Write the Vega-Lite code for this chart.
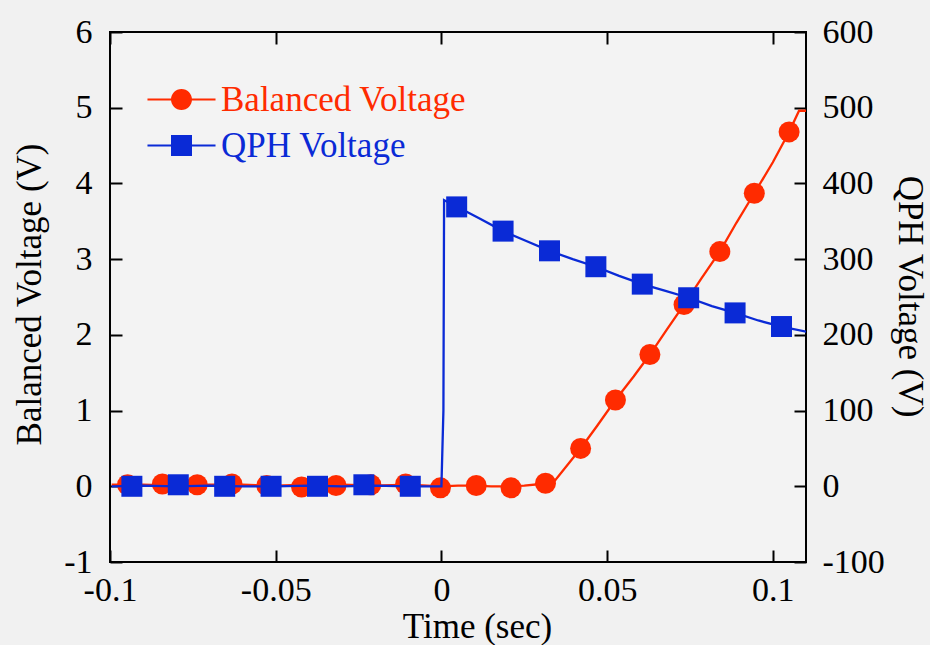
{
  "$schema": "https://vega.github.io/schema/vega-lite/v6.json",
  "width": 696,
  "height": 530,
  "autosize": "none",
  "padding": {"left": 110, "top": 32, "right": 124, "bottom": 83},
  "background": "#f1f1f1",
  "config": {
    "view": {"stroke": "#000000", "strokeWidth": 2, "fill": "#f3f3f3"},
    "font": "Liberation Serif",
    "axis": {
      "grid": false,
      "domain": false,
      "tickColor": "#000000",
      "tickWidth": 2,
      "tickSize": -12,
      "labelFont": "Liberation Serif",
      "labelFontSize": 34,
      "labelColor": "#000000",
      "labelFlush": false,
      "labelOverlap": false,
      "titleFont": "Liberation Serif",
      "titleFontSize": 35,
      "titleFontWeight": "normal",
      "titleColor": "#000000"
    },
    "legend": {
      "orient": "none", "legendX": 54, "legendY": 50, "title": null, "padding": 0,
      "labelFont": "Liberation Serif", "labelFontSize": 35, "labelOffset": 22, "labelLimit": 0,
      "rowPadding": 10, "symbolSize": 441, "symbolStrokeWidth": 0, "symbolOpacity": 1
    }
  },
  "datasets": {
    "bal_line": [
      {"t": -0.0995, "v": 0.02}, {"t": -0.09, "v": 0.02}, {"t": -0.08, "v": 0.01}, {"t": -0.07, "v": 0.02},
      {"t": -0.06, "v": 0.02}, {"t": -0.05, "v": 0.01}, {"t": -0.04, "v": 0.02}, {"t": -0.03, "v": 0.02},
      {"t": -0.02, "v": 0.01}, {"t": -0.01, "v": 0.02}, {"t": 0.0, "v": 0.0}, {"t": 0.005, "v": 0.01},
      {"t": 0.01, "v": 0.01}, {"t": 0.015, "v": 0.0}, {"t": 0.02, "v": 0.0}, {"t": 0.025, "v": 0.01},
      {"t": 0.03, "v": 0.03}, {"t": 0.0338, "v": 0.05}, {"t": 0.042, "v": 0.5}, {"t": 0.047, "v": 0.8},
      {"t": 0.0525, "v": 1.14}, {"t": 0.058, "v": 1.45}, {"t": 0.0629, "v": 1.74}, {"t": 0.068, "v": 2.07},
      {"t": 0.0732, "v": 2.4}, {"t": 0.0785, "v": 2.75}, {"t": 0.084, "v": 3.1}, {"t": 0.089, "v": 3.48},
      {"t": 0.0944, "v": 3.87}, {"t": 0.1, "v": 4.28}, {"t": 0.1049, "v": 4.68}, {"t": 0.1079, "v": 4.96},
      {"t": 0.1103, "v": 4.96}
    ],
    "bal_pts": [
      {"t": -0.0947, "v": 0.02, "series": "Balanced Voltage"},
      {"t": -0.0842, "v": 0.03, "series": "Balanced Voltage"},
      {"t": -0.0737, "v": 0.02, "series": "Balanced Voltage"},
      {"t": -0.0632, "v": 0.03, "series": "Balanced Voltage"},
      {"t": -0.0527, "v": 0.01, "series": "Balanced Voltage"},
      {"t": -0.0422, "v": -0.01, "series": "Balanced Voltage"},
      {"t": -0.0318, "v": 0.01, "series": "Balanced Voltage"},
      {"t": -0.0213, "v": 0.02, "series": "Balanced Voltage"},
      {"t": -0.0108, "v": 0.03, "series": "Balanced Voltage"},
      {"t": -0.0003, "v": -0.02, "series": "Balanced Voltage"},
      {"t": 0.0105, "v": 0.01, "series": "Balanced Voltage"},
      {"t": 0.021, "v": -0.02, "series": "Balanced Voltage"},
      {"t": 0.0314, "v": 0.04, "series": "Balanced Voltage"},
      {"t": 0.042, "v": 0.5, "series": "Balanced Voltage"},
      {"t": 0.0525, "v": 1.14, "series": "Balanced Voltage"},
      {"t": 0.0629, "v": 1.74, "series": "Balanced Voltage"},
      {"t": 0.0732, "v": 2.4, "series": "Balanced Voltage"},
      {"t": 0.084, "v": 3.1, "series": "Balanced Voltage"},
      {"t": 0.0944, "v": 3.87, "series": "Balanced Voltage"},
      {"t": 0.1049, "v": 4.68, "series": "Balanced Voltage"}
    ],
    "qph_line": [
      {"t": -0.0995, "v": 0}, {"t": -0.09, "v": 1}, {"t": -0.08, "v": 0}, {"t": -0.07, "v": 1},
      {"t": -0.06, "v": 0}, {"t": -0.05, "v": 0}, {"t": -0.04, "v": 1}, {"t": -0.03, "v": 0},
      {"t": -0.02, "v": 1}, {"t": -0.01, "v": 0}, {"t": 0.0, "v": 0}, {"t": 0.0006, "v": 100},
      {"t": 0.0008, "v": 378}, {"t": 0.0046, "v": 369}, {"t": 0.0079, "v": 362}, {"t": 0.0118, "v": 353},
      {"t": 0.0186, "v": 337}, {"t": 0.0256, "v": 324}, {"t": 0.0326, "v": 311}, {"t": 0.0396, "v": 300},
      {"t": 0.0466, "v": 290}, {"t": 0.0536, "v": 278}, {"t": 0.0606, "v": 267}, {"t": 0.0676, "v": 258},
      {"t": 0.0746, "v": 249}, {"t": 0.0816, "v": 238}, {"t": 0.0886, "v": 229}, {"t": 0.0956, "v": 219},
      {"t": 0.1026, "v": 211}, {"t": 0.1103, "v": 204}
    ],
    "qph_pts": [
      {"t": -0.0934, "v": 0, "series": "QPH Voltage"},
      {"t": -0.0794, "v": 2, "series": "QPH Voltage"},
      {"t": -0.0654, "v": 0, "series": "QPH Voltage"},
      {"t": -0.0514, "v": 0, "series": "QPH Voltage"},
      {"t": -0.0374, "v": 0, "series": "QPH Voltage"},
      {"t": -0.0234, "v": 2, "series": "QPH Voltage"},
      {"t": -0.0094, "v": 0, "series": "QPH Voltage"},
      {"t": 0.0046, "v": 369, "series": "QPH Voltage"},
      {"t": 0.0186, "v": 337, "series": "QPH Voltage"},
      {"t": 0.0326, "v": 311, "series": "QPH Voltage"},
      {"t": 0.0466, "v": 290, "series": "QPH Voltage"},
      {"t": 0.0606, "v": 267, "series": "QPH Voltage"},
      {"t": 0.0746, "v": 249, "series": "QPH Voltage"},
      {"t": 0.0886, "v": 229, "series": "QPH Voltage"},
      {"t": 0.1026, "v": 211, "series": "QPH Voltage"}
    ]
  },
  "layer": [
    {
      "layer": [
        {
          "data": {"name": "bal_line"},
          "mark": {"type": "line", "color": "#ff2b00", "strokeWidth": 2.3, "clip": true},
          "encoding": {
            "x": {
              "field": "t", "type": "quantitative",
              "scale": {"domain": [-0.1, 0.11], "nice": false, "zero": false},
              "axis": {
                "orient": "bottom",
                "values": [-0.1, -0.05, 0, 0.05, 0.1],
                "labelExpr": "toString(datum.value)",
                "labelPadding": 23,
                "title": "Time (sec)",
                "titleX": 367,
                "titleY": 75,
                "titleBaseline": "alphabetic",
                "titleAlign": "center"
              }
            },
            "y": {
              "field": "v", "type": "quantitative",
              "scale": {"domain": [-1, 6], "nice": false, "zero": false},
              "axis": {
                "orient": "left",
                "values": [-1, 0, 1, 2, 3, 4, 5, 6],
                "labelExpr": "toString(datum.value)",
                "labelPadding": 30,
                "title": "Balanced Voltage (V)",
                "titleX": -70,
                "titleY": 262,
                "titleAngle": -90,
                "titleBaseline": "alphabetic",
                "titleAlign": "center"
              }
            }
          }
        },
        {
          "data": {"name": "bal_pts"},
          "mark": {"type": "point", "filled": true, "opacity": 1, "size": 441, "shape": "circle", "color": "#ff2b00"},
          "encoding": {
            "x": {"field": "t", "type": "quantitative"},
            "y": {"field": "v", "type": "quantitative"}
          }
        },
        {
          "data": {"name": "bal_pts"},
          "mark": {"type": "point", "filled": true, "opacity": 0, "size": 441},
          "encoding": {
            "x": {"field": "t", "type": "quantitative"},
            "y": {"field": "v", "type": "quantitative"},
            "color": {
              "field": "series", "type": "nominal",
              "scale": {"domain": ["Balanced Voltage", "QPH Voltage"], "range": ["#ff2b00", "#0a2ad6"]},
              "legend": {
                "labelColor": {"expr": "scale('color', datum.value)"},
                "symbolOpacity": 1
              }
            },
            "shape": {
              "field": "series", "type": "nominal",
              "scale": {"domain": ["Balanced Voltage", "QPH Voltage"], "range": ["M-3.24,-0.1L3.24,-0.1L3.24,0.1L-3.24,0.1Z M-1,0A1,1,0,1,1,1,0A1,1,0,1,1,-1,0Z", "M-3.24,-0.1L3.24,-0.1L3.24,0.1L-3.24,0.1Z M-1,-1L1,-1L1,1L-1,1Z"]},
              "legend": {
                "labelColor": {"expr": "scale('color', datum.value)"},
                "symbolOpacity": 1
              }
            }
          }
        }
      ]
    },
    {
      "layer": [
        {
          "data": {"name": "qph_line"},
          "mark": {"type": "line", "color": "#0a2ad6", "strokeWidth": 2.3, "clip": true},
          "encoding": {
            "x": {
              "field": "t", "type": "quantitative",
              "axis": {
                "orient": "top",
                "values": [-0.1, -0.05, 0, 0.05, 0.1],
                "labels": false,
                "title": null
              }
            },
            "y": {
              "field": "v", "type": "quantitative",
              "scale": {"domain": [-100, 600], "nice": false, "zero": false},
              "axis": {
                "orient": "right",
                "values": [-100, 0, 100, 200, 300, 400, 500, 600],
                "labelExpr": "toString(datum.value)",
                "labelPadding": 28,
                "title": "QPH Voltage (V)",
                "titleX": 92,
                "titleY": 264,
                "titleAngle": 90,
                "titleBaseline": "alphabetic",
                "titleAlign": "center"
              }
            }
          }
        },
        {
          "data": {"name": "qph_pts"},
          "mark": {"type": "point", "filled": true, "opacity": 1, "size": 441, "shape": "square", "color": "#0a2ad6"},
          "encoding": {
            "x": {"field": "t", "type": "quantitative"},
            "y": {"field": "v", "type": "quantitative"}
          }
        }
      ]
    }
  ],
  "resolve": {"scale": {"y": "independent"}, "axis": {"x": "independent", "y": "independent"}}
}
